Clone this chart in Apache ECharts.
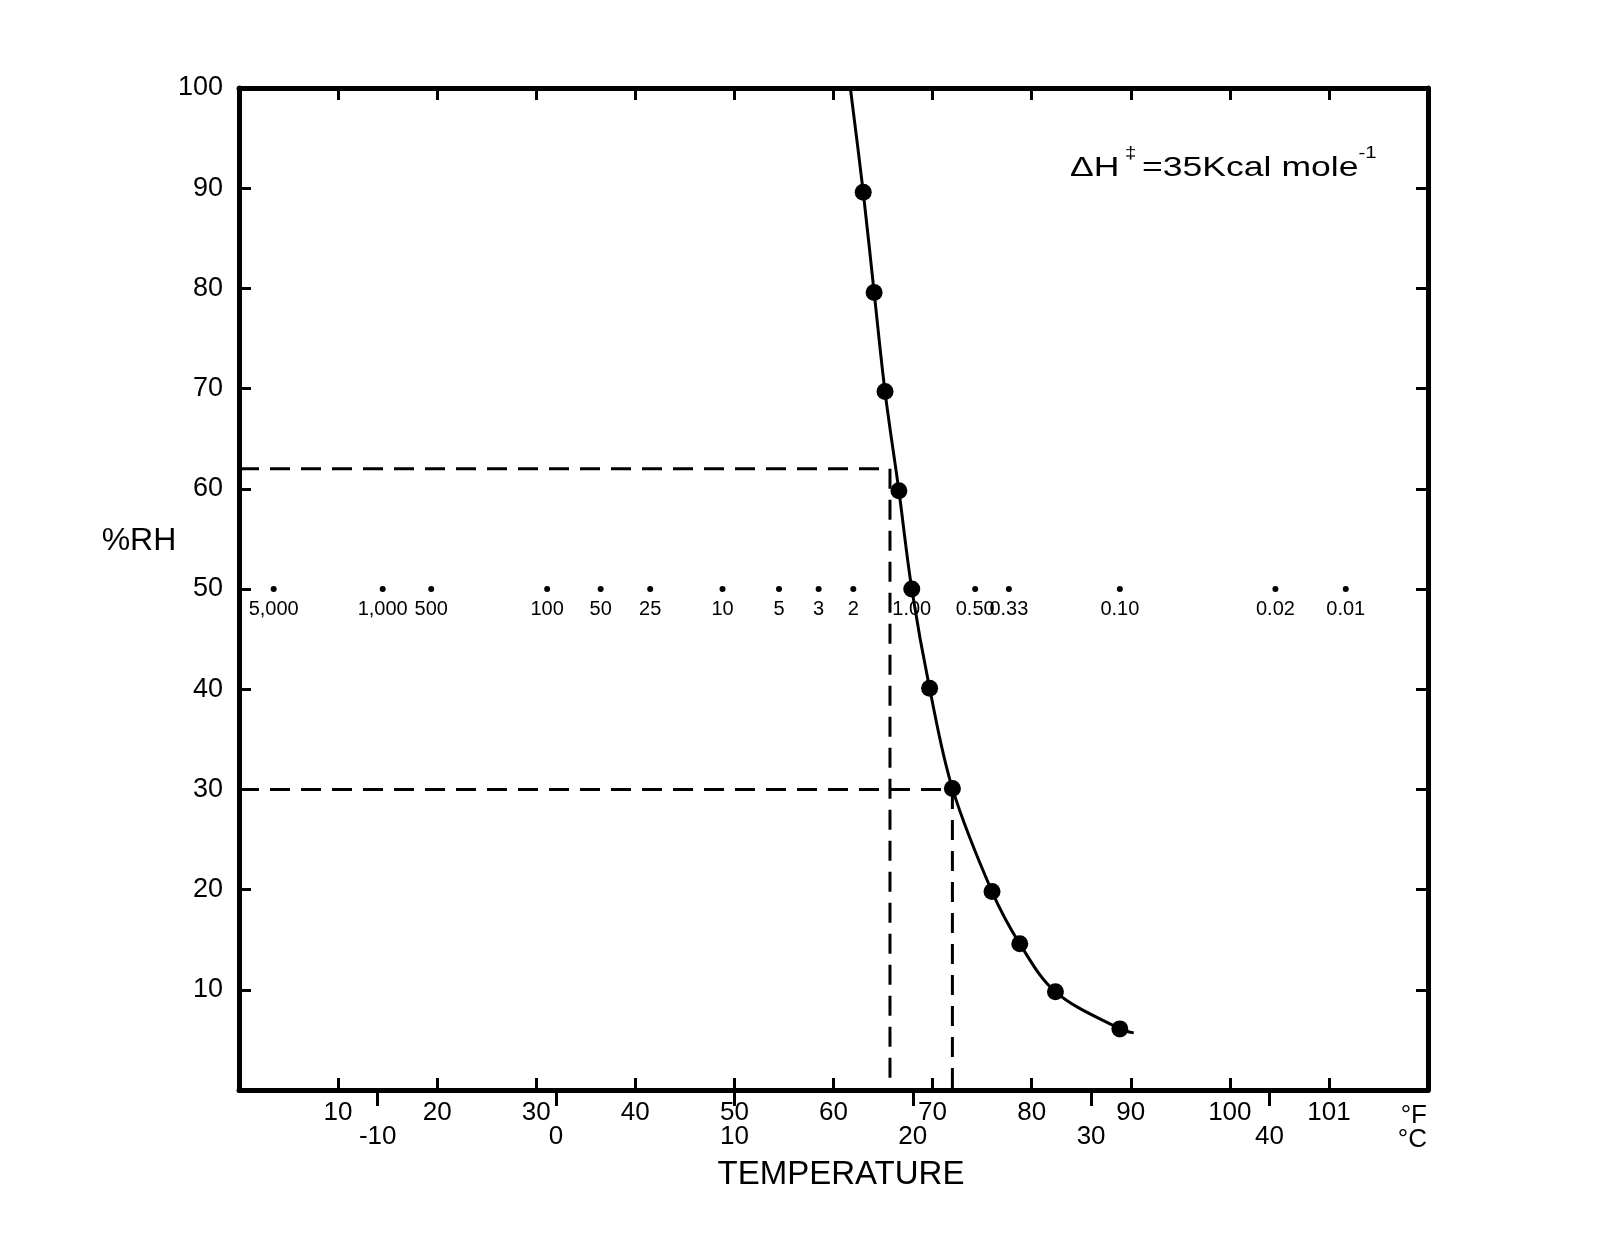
<!DOCTYPE html>
<html><head><meta charset="utf-8">
<script src="https://cdn.jsdelivr.net/npm/echarts@6/dist/echarts.min.js"></script>
<style>html,body{margin:0;padding:0;background:#fff}#c{width:1611px;height:1242px}</style>
</head><body><div id="c"></div>
<script>
// Fahrenheit axis tick values and labels
const fTickValues = [10, 20, 30, 40, 50, 60, 70, 80, 90, 100, 110];
const fTickLabels = ['10', '20', '30', '40', '50', '60', '70', '80', '90', '100', '101'];
// Celsius axis tick values and labels
const cTickValues = [-10, 0, 10, 20, 30, 40];
const cTickLabels = ['-10', '0', '10', '20', '30', '40'];
// %RH ticks
const rhTickValues = [10, 20, 30, 40, 50, 60, 70, 80, 90, 100];
// measured points (°F, %RH)
const pointF  = [63.0, 64.1, 65.2, 66.6, 67.9, 69.7, 72.0, 76.0, 78.8, 82.4, 88.9];
const pointRH = [89.6, 79.6, 69.7, 59.8, 50.0, 40.1, 30.1, 19.8, 14.6, 9.8, 6.1];
// fitted curve (°F, %RH), including where it leaves the frame and its end
const curveF  = [61.7, 63.0, 64.1, 65.2, 66.6, 67.9, 69.7, 72.0, 76.0, 78.8, 82.4, 88.9, 90.3];
const curveRH = [100, 89.6, 79.6, 69.7, 59.8, 50.0, 40.1, 30.1, 19.8, 14.6, 9.8, 6.1, 5.7];
// relative rate scale along 50 %RH
const ratioF = [3.5, 14.5, 19.4, 31.1, 36.5, 41.5, 48.8, 54.5, 58.5, 62.0, 67.9, 74.3, 77.7, 88.9, 104.6, 111.7];
const ratioLabels = ['5,000', '1,000', '500', '100', '50', '25', '10', '5', '3', '2', '1.00', '0.50', '0.33', '0.10', '0.02', '0.01'];
const ratioRH = 50;
// dashed guides
const guideRH = [62, 30];
const guideF = [65.7, 72.0];

const fMin = 0, fMax = 120;
const toC = f => (f - 32) / 1.8;

const SANS = "'Liberation Sans', Arial, Helvetica, sans-serif";
const frame = { show: true, onZero: false, lineStyle: { color: '#000', width: 5 } };
const tickStyle = { width: 3, color: '#000' };

const chart = echarts.init(document.getElementById('c'));
const guideSeries = guideRH.map((rh, i) => ({
  type: 'line', xAxisIndex: 0, yAxisIndex: 0, symbol: 'none', z: 2,
  lineStyle: { color: '#000', width: 3, type: [20, 11] },
  data: [[fMin, rh], [guideF[i], rh], [guideF[i], 0]]
}));

chart.setOption({
  animation: false,
  backgroundColor: '#fff',
  grid: { left: 239, right: 183, top: 88, bottom: 152, containLabel: false },
  xAxis: [
    { type: 'value', position: 'bottom', min: fMin, max: fMax, interval: 10,
      axisLine: frame, splitLine: { show: false },
      axisTick: { inside: true, length: 12, lineStyle: tickStyle },
      axisLabel: { customValues: fTickValues, margin: 10, color: '#000', fontSize: 26, fontFamily: SANS,
        formatter: v => fTickLabels[fTickValues.indexOf(v)] } },
    { type: 'value', position: 'bottom', min: toC(fMin), max: toC(fMax),
      axisLine: { show: false, onZero: false }, splitLine: { show: false },
      axisTick: { show: true, inside: false, length: 16, customValues: cTickValues, lineStyle: tickStyle },
      axisLabel: { customValues: cTickValues, margin: 34, color: '#000', fontSize: 26, fontFamily: SANS,
        formatter: v => cTickLabels[cTickValues.indexOf(v)] } },
    { type: 'value', position: 'top', min: fMin, max: fMax, interval: 10,
      axisLine: frame, splitLine: { show: false },
      axisTick: { inside: true, length: 12, lineStyle: tickStyle },
      axisLabel: { show: false } }
  ],
  yAxis: [
    { type: 'value', position: 'left', min: 0, max: 100, interval: 10,
      axisLine: frame, splitLine: { show: false },
      axisTick: { inside: true, length: 12, lineStyle: tickStyle },
      axisLabel: { customValues: rhTickValues, margin: 16, color: '#000', fontSize: 27, fontFamily: SANS } },
    { type: 'value', position: 'right', min: 0, max: 100, interval: 10,
      axisLine: frame, splitLine: { show: false },
      axisTick: { inside: true, length: 12, lineStyle: tickStyle },
      axisLabel: { show: false } }
  ],
  series: [
    ...guideSeries,
    { type: 'scatter', xAxisIndex: 0, yAxisIndex: 0, z: 3, symbol: 'circle', symbolSize: 6,
      itemStyle: { color: '#000', opacity: 1 },
      label: { show: true, position: 'bottom', distance: 7, color: '#000', fontSize: 20, fontFamily: SANS,
        formatter: p => ratioLabels[p.dataIndex] },
      data: ratioF.map(f => [f, ratioRH]) },
    { type: 'line', xAxisIndex: 0, yAxisIndex: 0, z: 4, symbol: 'none', smooth: 0.35, clip: true,
      lineStyle: { color: '#000', width: 3 },
      data: curveF.map((f, i) => [f, curveRH[i]]) },
    { type: 'scatter', xAxisIndex: 0, yAxisIndex: 0, z: 5, symbol: 'circle', symbolSize: 17,
      itemStyle: { color: '#000', opacity: 1 },
      data: pointF.map((f, i) => [f, pointRH[i]]) }
  ],
  graphic: [
    { type: 'text', x: 1070, y: 146, scaleX: 1.27, z: 10,
      style: { text: '{a|ΔH}{s| ‡ }{a|=35Kcal mole}{s|-1}', fill: '#000',
        rich: { a: { fontSize: 28, fontFamily: SANS, lineHeight: 36, verticalAlign: 'bottom' },
                s: { fontSize: 16, fontFamily: SANS, lineHeight: 36, verticalAlign: 'top' } } } },
    { type: 'text', x: 139, y: 541, z: 10,
      style: { text: '%RH', fill: '#000', fontSize: 32, fontFamily: SANS, align: 'center', verticalAlign: 'middle' } },
    { type: 'text', x: 841, y: 1175, z: 10,
      style: { text: 'TEMPERATURE', fill: '#000', fontSize: 33, fontFamily: SANS, align: 'center', verticalAlign: 'middle' } },
    { type: 'text', x: 1427, y: 1116, z: 10,
      style: { text: '°F', fill: '#000', fontSize: 26, fontFamily: SANS, align: 'right', verticalAlign: 'middle' } },
    { type: 'text', x: 1427, y: 1140, z: 10,
      style: { text: '°C', fill: '#000', fontSize: 26, fontFamily: SANS, align: 'right', verticalAlign: 'middle' } }
  ]
});
</script></body></html>
